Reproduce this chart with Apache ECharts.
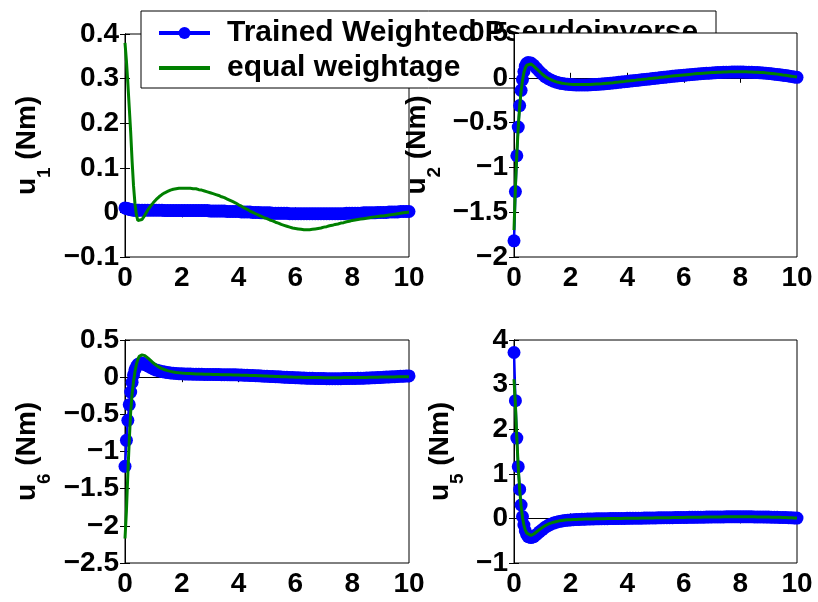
<!DOCTYPE html>
<html>
<head>
<meta charset="utf-8">
<script src="https://cdn.jsdelivr.net/npm/echarts@6/dist/echarts.min.js"></script>
<style>
  html, body { margin: 0; padding: 0; background: #fff; }
  #chart { width: 818px; height: 602px; }
</style>
</head>
<body>
<div id="chart"></div>
<script>
// sample times (s), shared by every series
var time = [0, 0.05, 0.1, 0.15, 0.2, 0.25, 0.3, 0.35, 0.4, 0.45, 0.5,
  0.6, 0.7, 0.8, 0.9, 1.0, 1.1, 1.2, 1.3, 1.4, 1.5,
  1.6, 1.7, 1.8, 1.9, 2.0, 2.1, 2.2, 2.3, 2.4, 2.5,
  2.6, 2.7, 2.8, 2.9, 3.0, 3.1, 3.2, 3.3, 3.4, 3.5,
  3.6, 3.7, 3.8, 3.9, 4.0, 4.1, 4.2, 4.3, 4.4, 4.5,
  4.6, 4.7, 4.8, 4.9, 5.0, 5.1, 5.2, 5.3, 5.4, 5.5,
  5.6, 5.7, 5.8, 5.9, 6.0, 6.1, 6.2, 6.3, 6.4, 6.5,
  6.6, 6.7, 6.8, 6.9, 7.0, 7.1, 7.2, 7.3, 7.4, 7.5,
  7.6, 7.7, 7.8, 7.9, 8.0, 8.1, 8.2, 8.3, 8.4, 8.5,
  8.6, 8.7, 8.8, 8.9, 9.0, 9.1, 9.2, 9.3, 9.4, 9.5,
  9.6, 9.7, 9.8, 9.9, 10.0];

var seriesNames = ['Trained Weighted Pseudoinverse', 'equal weightage'];
var xTicks = { min: 0, max: 10, step: 2 };

// u1
var u1Trained = [0.010, 0.009, 0.008, 0.007, 0.006, 0.006, 0.005, 0.005, 0.005, 0.005, 0.005,
  0.005, 0.005, 0.005, 0.005, 0.005, 0.005, 0.005, 0.005, 0.004, 0.004,
  0.004, 0.004, 0.004, 0.004, 0.004, 0.004, 0.004, 0.004, 0.004, 0.004,
  0.004, 0.004, 0.004, 0.004, 0.003, 0.003, 0.003, 0.003, 0.003, 0.003,
  0.002, 0.002, 0.002, 0.002, 0.002, 0.001, 0.001, 0.001, 0.001, 0.000,
  0.000, 0.000, -0.001, -0.001, -0.001, -0.001, -0.002, -0.002, -0.002, -0.002,
  -0.002, -0.002, -0.003, -0.003, -0.003, -0.003, -0.003, -0.003, -0.003, -0.003,
  -0.003, -0.003, -0.003, -0.003, -0.003, -0.003, -0.003, -0.003, -0.003, -0.003,
  -0.003, -0.003, -0.002, -0.002, -0.002, -0.002, -0.002, -0.002, -0.001, -0.001,
  -0.001, -0.001, -0.001, 0.000, 0.000, 0.000, 0.000, 0.001, 0.001, 0.001,
  0.001, 0.002, 0.002, 0.002, 0.002];
var u1Equal = [0.380, 0.340, 0.290, 0.235, 0.180, 0.115, 0.060, 0.020, -0.005, -0.018, -0.022,
  -0.016, -0.006, 0.005, 0.014, 0.022, 0.029, 0.035, 0.040, 0.044, 0.047,
  0.050, 0.052, 0.053, 0.054, 0.054, 0.054, 0.054, 0.054, 0.053, 0.053,
  0.051, 0.050, 0.048, 0.046, 0.044, 0.042, 0.040, 0.038, 0.035, 0.033,
  0.030, 0.027, 0.024, 0.021, 0.017, 0.014, 0.010, 0.007, 0.003, 0.000,
  -0.003, -0.006, -0.009, -0.012, -0.014, -0.017, -0.019, -0.022, -0.024, -0.027,
  -0.029, -0.031, -0.033, -0.035, -0.036, -0.037, -0.038, -0.039, -0.039, -0.039,
  -0.038, -0.037, -0.036, -0.035, -0.033, -0.032, -0.030, -0.029, -0.027, -0.026,
  -0.024, -0.023, -0.021, -0.020, -0.018, -0.017, -0.016, -0.015, -0.014, -0.013,
  -0.012, -0.011, -0.010, -0.009, -0.008, -0.008, -0.007, -0.006, -0.005, -0.004,
  -0.003, -0.002, -0.001, 0.000, 0.001];

// u2
var u2Trained = [-1.82, -1.27, -0.87, -0.55, -0.31, -0.14, -0.02, 0.07, 0.13, 0.16, 0.17,
  0.165, 0.14, 0.105, 0.07, 0.04, 0.012, -0.008, -0.024, -0.038, -0.049,
  -0.057, -0.064, -0.069, -0.073, -0.076, -0.078, -0.079, -0.080, -0.080, -0.080,
  -0.079, -0.078, -0.076, -0.074, -0.072, -0.070, -0.067, -0.064, -0.061, -0.058,
  -0.054, -0.051, -0.047, -0.044, -0.040, -0.037, -0.033, -0.030, -0.026, -0.023,
  -0.019, -0.016, -0.012, -0.009, -0.005, -0.002, 0.002, 0.005, 0.009, 0.012,
  0.016, 0.019, 0.022, 0.025, 0.028, 0.031, 0.034, 0.037, 0.040, 0.043,
  0.045, 0.048, 0.050, 0.052, 0.054, 0.056, 0.058, 0.059, 0.061, 0.062,
  0.063, 0.064, 0.064, 0.064, 0.064, 0.064, 0.063, 0.062, 0.061, 0.059,
  0.058, 0.056, 0.054, 0.051, 0.048, 0.045, 0.041, 0.037, 0.033, 0.029,
  0.025, 0.020, 0.015, 0.010, 0.005];
var u2Equal = [-1.70, -1.22, -0.85, -0.55, -0.32, -0.15, -0.03, 0.06, 0.11, 0.14, 0.155,
  0.155, 0.13, 0.10, 0.07, 0.04, 0.015, -0.005, -0.020, -0.035, -0.045,
  -0.053, -0.060, -0.065, -0.069, -0.072, -0.074, -0.075, -0.076, -0.076, -0.076,
  -0.075, -0.074, -0.072, -0.070, -0.068, -0.066, -0.063, -0.060, -0.057, -0.054,
  -0.050, -0.047, -0.043, -0.040, -0.036, -0.033, -0.029, -0.026, -0.022, -0.019,
  -0.015, -0.012, -0.008, -0.005, -0.001, 0.002, 0.006, 0.009, 0.013, 0.016,
  0.020, 0.023, 0.026, 0.029, 0.032, 0.035, 0.038, 0.041, 0.044, 0.047,
  0.049, 0.052, 0.054, 0.056, 0.058, 0.060, 0.062, 0.063, 0.065, 0.066,
  0.067, 0.068, 0.068, 0.068, 0.068, 0.068, 0.067, 0.066, 0.065, 0.063,
  0.062, 0.060, 0.058, 0.055, 0.052, 0.049, 0.045, 0.041, 0.037, 0.032,
  0.028, 0.023, 0.018, 0.013, 0.008];

// u6
var u6Trained = [-1.20, -0.85, -0.58, -0.37, -0.20, -0.07, 0.03, 0.10, 0.14, 0.17, 0.18,
  0.19, 0.17, 0.15, 0.13, 0.11, 0.095, 0.085, 0.075, 0.068, 0.062,
  0.057, 0.053, 0.050, 0.047, 0.045, 0.043, 0.042, 0.041, 0.040, 0.039,
  0.038, 0.038, 0.037, 0.037, 0.036, 0.036, 0.035, 0.035, 0.034, 0.034,
  0.033, 0.032, 0.031, 0.031, 0.030, 0.028, 0.027, 0.025, 0.024, 0.022,
  0.020, 0.018, 0.016, 0.014, 0.012, 0.010, 0.008, 0.006, 0.004, 0.002,
  0.000, -0.002, -0.004, -0.006, -0.008, -0.009, -0.011, -0.012, -0.014, -0.015,
  -0.016, -0.017, -0.018, -0.019, -0.019, -0.020, -0.020, -0.020, -0.020, -0.020,
  -0.020, -0.019, -0.019, -0.018, -0.018, -0.017, -0.016, -0.015, -0.013, -0.012,
  -0.010, -0.009, -0.007, -0.005, -0.003, -0.001, 0.001, 0.003, 0.005, 0.007,
  0.009, 0.011, 0.013, 0.015, 0.017];
var u6Equal = [-2.17, -1.80, -1.30, -0.85, -0.47, -0.22, -0.06, 0.07, 0.17, 0.24, 0.28,
  0.30, 0.29, 0.26, 0.225, 0.19, 0.16, 0.135, 0.115, 0.100, 0.088,
  0.078, 0.070, 0.064, 0.059, 0.055, 0.052, 0.050, 0.048, 0.046, 0.044,
  0.043, 0.042, 0.040, 0.039, 0.038, 0.037, 0.036, 0.035, 0.034, 0.033,
  0.032, 0.031, 0.030, 0.029, 0.028, 0.027, 0.026, 0.025, 0.024, 0.022,
  0.021, 0.019, 0.018, 0.016, 0.015, 0.013, 0.012, 0.010, 0.009, 0.007,
  0.006, 0.004, 0.003, 0.001, 0.000, -0.001, -0.002, -0.003, -0.004, -0.004,
  -0.005, -0.005, -0.006, -0.006, -0.007, -0.007, -0.007, -0.007, -0.007, -0.007,
  -0.007, -0.006, -0.006, -0.006, -0.005, -0.005, -0.004, -0.004, -0.003, -0.003,
  -0.002, -0.002, -0.001, 0.000, 0.001, 0.001, 0.002, 0.002, 0.003, 0.003,
  0.004, 0.004, 0.005, 0.005, 0.006];

// u5
var u5Trained = [3.72, 2.64, 1.80, 1.16, 0.65, 0.30, 0.04, -0.15, -0.28, -0.36, -0.41,
  -0.43, -0.41, -0.36, -0.30, -0.25, -0.20, -0.16, -0.13, -0.105, -0.085,
  -0.068, -0.056, -0.047, -0.040, -0.034, -0.030, -0.026, -0.023, -0.020, -0.018,
  -0.016, -0.014, -0.012, -0.010, -0.009, -0.008, -0.007, -0.006, -0.005, -0.004,
  -0.003, -0.002, -0.001, 0.000, 0.001, 0.002, 0.003, 0.004, 0.005, 0.006,
  0.007, 0.008, 0.009, 0.010, 0.011, 0.012, 0.013, 0.014, 0.015, 0.016,
  0.017, 0.018, 0.019, 0.020, 0.021, 0.022, 0.023, 0.024, 0.025, 0.026,
  0.027, 0.028, 0.029, 0.030, 0.031, 0.032, 0.033, 0.034, 0.034, 0.035,
  0.035, 0.036, 0.036, 0.036, 0.036, 0.036, 0.036, 0.035, 0.035, 0.034,
  0.033, 0.032, 0.031, 0.030, 0.029, 0.027, 0.026, 0.024, 0.022, 0.020,
  0.018, 0.016, 0.013, 0.010, 0.007];
var u5Equal = [3.12, 2.55, 1.80, 1.15, 0.65, 0.28, 0.02, -0.15, -0.26, -0.33, -0.37,
  -0.38, -0.35, -0.30, -0.25, -0.205, -0.165, -0.13, -0.105, -0.085, -0.068,
  -0.055, -0.045, -0.038, -0.032, -0.028, -0.025, -0.022, -0.020, -0.018, -0.016,
  -0.014, -0.012, -0.011, -0.009, -0.008, -0.007, -0.006, -0.005, -0.004, -0.003,
  -0.002, -0.001, 0.000, 0.001, 0.002, 0.003, 0.004, 0.005, 0.006, 0.007,
  0.008, 0.009, 0.010, 0.011, 0.012, 0.013, 0.014, 0.015, 0.016, 0.017,
  0.018, 0.019, 0.020, 0.021, 0.022, 0.023, 0.024, 0.025, 0.026, 0.027,
  0.028, 0.029, 0.030, 0.031, 0.032, 0.033, 0.034, 0.034, 0.035, 0.035,
  0.036, 0.036, 0.037, 0.037, 0.037, 0.037, 0.036, 0.036, 0.035, 0.035,
  0.034, 0.033, 0.032, 0.031, 0.030, 0.028, 0.027, 0.025, 0.023, 0.021,
  0.019, 0.017, 0.014, 0.011, 0.008];

var FONT = '"Liberation Sans", Arial, Helvetica, sans-serif';

// one entry per subplot: where it sits, its y range, and what it shows
var panels = [
  { sub: '1', trained: u1Trained, equal: u1Equal, min: -0.1, max: 0.4, step: 0.1,
    box: { left: 125, top: 34, width: 284, height: 223 }, nameGap: 71, z: 0 },
  { sub: '2', trained: u2Trained, equal: u2Equal, min: -2, max: 0.5, step: 0.5,
    box: { left: 514, top: 33, width: 283, height: 224 }, nameGap: 70, z: 4 },
  { sub: '6', trained: u6Trained, equal: u6Equal, min: -2.5, max: 0.5, step: 0.5,
    box: { left: 125, top: 340, width: 284, height: 223 }, nameGap: 71, z: 0 },
  { sub: '5', trained: u5Trained, equal: u5Equal, min: -1, max: 4, step: 1,
    box: { left: 514, top: 340, width: 283, height: 223 }, nameGap: 47, z: 0 }
];

function pairs(vals) {
  return time.map(function (t, i) { return [t, vals[i]]; });
}

function fmt(v) {
  return String(+v.toFixed(2)).replace('-', '\u2212');
}

var tick = { show: true, inside: true, length: 5, lineStyle: { color: '#000', width: 1 } };
var axisLine = { show: true, lineStyle: { color: '#000', width: 1 } };
var label = { color: '#000', fontFamily: FONT, fontWeight: 'bold', fontSize: 28 };

var grids = [], xAxes = [], yAxes = [], series = [];

panels.forEach(function (p, i) {
  grids.push(Object.assign({
    show: true, backgroundColor: '#fff', borderColor: '#000', borderWidth: 1, z: p.z
  }, p.box));

  // bottom + mirrored top x axis
  xAxes.push({
    type: 'value', gridIndex: i, position: 'bottom', z: p.z + 1,
    min: xTicks.min, max: xTicks.max, interval: xTicks.step,
    axisLine: axisLine, axisTick: tick, splitLine: { show: false },
    axisLabel: Object.assign({ margin: 7, formatter: fmt }, label)
  });
  xAxes.push({
    type: 'value', gridIndex: i, position: 'top', z: p.z + 1,
    min: xTicks.min, max: xTicks.max, interval: xTicks.step,
    axisLine: axisLine, axisTick: tick, splitLine: { show: false },
    axisLabel: { show: false }
  });

  // left + mirrored right y axis
  yAxes.push({
    type: 'value', gridIndex: i, position: 'left', z: p.z + 1,
    min: p.min, max: p.max, interval: p.step,
    axisLine: axisLine, axisTick: tick, splitLine: { show: false },
    axisLabel: Object.assign({ margin: 6, formatter: fmt }, label),
    name: '{a|u}{s|' + p.sub + '}{a| (Nm)}',
    nameLocation: 'middle', nameRotate: 90, nameGap: p.nameGap,
    nameTextStyle: {
      rich: {
        a: { color: '#000', fontFamily: FONT, fontWeight: 'bold', fontSize: 28 },
        s: { color: '#000', fontFamily: FONT, fontWeight: 'bold', fontSize: 19,
             padding: [34, 0, 0, 0] }
      }
    }
  });
  yAxes.push({
    type: 'value', gridIndex: i, position: 'right', z: p.z + 1,
    min: p.min, max: p.max, interval: p.step,
    axisLine: axisLine, axisTick: tick, splitLine: { show: false },
    axisLabel: { show: false }
  });

  series.push({
    name: seriesNames[0], type: 'line', xAxisIndex: 2 * i, yAxisIndex: 2 * i,
    data: pairs(p.trained), z: p.z + 2,
    symbol: 'circle', symbolSize: 13, showSymbol: true,
    lineStyle: { color: '#0000ff', width: 2.5 },
    itemStyle: { color: '#0000ff' }
  });
  series.push({
    name: seriesNames[1], type: 'line', xAxisIndex: 2 * i, yAxisIndex: 2 * i,
    data: pairs(p.equal), z: p.z + 3,
    symbol: 'none',
    lineStyle: { color: '#008000', width: 3 },
    itemStyle: { color: '#008000' }
  });
});

var chart = echarts.init(document.getElementById('chart'));
chart.setOption({
  animation: false,
  backgroundColor: '#fff',
  grid: grids,
  xAxis: xAxes,
  yAxis: yAxes,
  legend: {
    data: [
      { name: seriesNames[0] },
      { name: seriesNames[1], icon: 'path://M0 0H51V4H0Z' }
    ],
    left: 141, top: 11, orient: 'vertical', z: 3,
    padding: [7, 14, 5, 16], itemGap: 5,
    itemWidth: 51, itemHeight: 15,
    backgroundColor: '#fff', borderColor: '#000', borderWidth: 1, borderRadius: 0,
    lineStyle: { width: 4 },
    selectedMode: false,
    textStyle: {
      color: '#000', fontFamily: FONT, fontWeight: 'bold', fontSize: 30,
      lineHeight: 30, width: 475, padding: [0, 0, 0, 12]
    }
  },
  series: series
});

window.addEventListener('resize', function () {
  chart.resize();
});
</script>
</body>
</html>
